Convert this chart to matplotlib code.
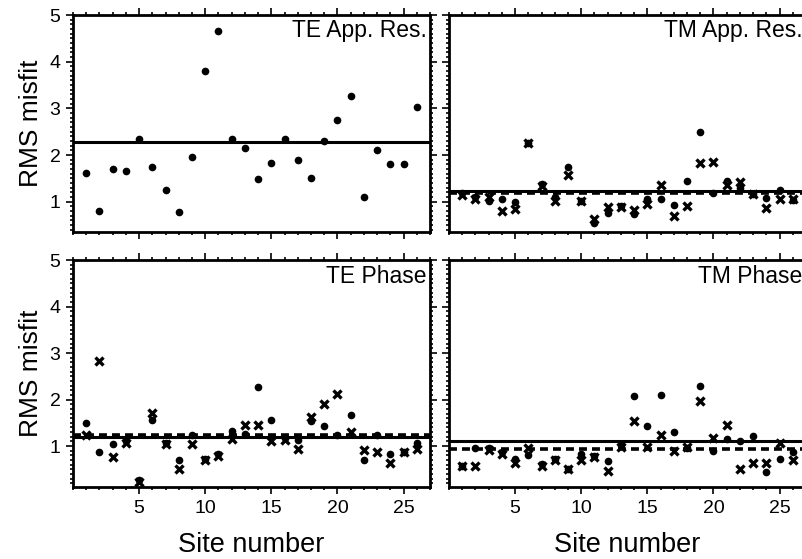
import matplotlib.pyplot as plt
import numpy as np
from matplotlib.ticker import MultipleLocator, FixedLocator

plt.rcParams['font.family'] = ['Liberation Sans', 'DejaVu Sans']

sites = np.arange(1, 27)

# TE apparent resistivity (dots only)
te_res_dot = [1.61, 0.79, 1.71, 1.66, 2.34, 1.74, 1.24, 0.77, 1.96, 3.80, 4.66, 2.35, 2.14,
              1.49, 1.82, 2.35, 1.89, 1.50, 2.30, 2.75, 3.26, 1.09, 2.10, 1.81, 1.81, 3.03]
te_res_solid = 2.28

# TM apparent resistivity
tm_res_dot = [1.18, 1.11, 1.01, 1.06, 0.99, 2.26, 1.37, 1.11, 1.75, 1.02, 0.54, 0.75, 0.91,
              0.74, 1.05, 1.05, 0.93, 1.44, 2.50, 1.19, 1.44, 1.29, 1.16, 1.07, 1.24, 1.04]
tm_res_x = [1.14, 1.05, 1.11, 0.81, 0.84, 2.26, 1.34, 1.02, 1.57, 1.02, 0.63, 0.88, 0.88,
            0.82, 0.96, 1.36, 0.69, 0.91, 1.82, 1.86, 1.36, 1.43, 1.16, 0.86, 1.05, 1.06]
tm_res_solid = 1.22
tm_res_dash = 1.18

# TE phase
te_ph_dot = [1.50, 0.87, 1.05, 1.10, 0.26, 1.57, 1.06, 0.71, 1.23, 0.73, 0.82, 1.32, 1.27,
             2.28, 1.57, 1.18, 1.12, 1.53, 1.43, 1.23, 1.66, 0.69, 1.23, 0.82, 0.87, 1.06]
te_ph_x = [1.23, 2.83, 0.76, 1.06, 0.22, 1.72, 1.04, 0.50, 1.05, 0.69, 0.78, 1.16, 1.46,
           1.45, 1.10, 1.14, 0.94, 1.62, 1.91, 2.11, 1.30, 0.91, 0.87, 0.64, 0.87, 0.94]
te_ph_solid = 1.19
te_ph_dash = 1.23

# TM phase
tm_ph_dot = [0.57, 0.96, 0.95, 0.87, 0.73, 0.81, 0.62, 0.73, 0.50, 0.83, 0.78, 0.67, 1.03,
             2.08, 1.43, 2.09, 1.30, 0.96, 2.29, 0.89, 1.16, 1.11, 1.22, 0.44, 0.73, 0.87]
tm_ph_x = [0.57, 0.58, 0.92, 0.83, 0.63, 0.96, 0.58, 0.71, 0.51, 0.71, 0.76, 0.46, 0.98,
           1.53, 0.98, 1.24, 0.89, 0.98, 1.96, 1.18, 1.45, 0.50, 0.64, 0.64, 1.06, 0.69]
tm_ph_solid = 1.11
tm_ph_dash = 0.94

xtick_vals = [5, 10, 15, 20, 25]

fig = plt.figure(figsize=(8.03, 5.59), dpi=100)

W = 357 / 803
panels = [
    # rect, title, dots, crosses, solid, dashed, ylim
    ([73 / 803, 0.585, W, 0.388], 'TE App. Res.', te_res_dot, None, te_res_solid, None, (0.35, 5)),
    ([449 / 803, 0.585, W, 0.388], 'TM App. Res.', tm_res_dot, tm_res_x, tm_res_solid, tm_res_dash, (0.35, 5)),
    ([73 / 803, 0.1288, W, 0.406], 'TE Phase', te_ph_dot, te_ph_x, te_ph_solid, te_ph_dash, (0.12, 5)),
    ([449 / 803, 0.1288, W, 0.406], 'TM Phase', tm_ph_dot, tm_ph_x, tm_ph_solid, tm_ph_dash, (0.12, 5)),
]

for i, (rect, title, dots, crosses, solid, dash, ylim) in enumerate(panels):
    ax = fig.add_axes(rect)
    ax.set_xlim(0, 27)
    ax.set_ylim(*ylim)

    ax.axhline(solid, color='black', lw=2.2, zorder=2)
    if dash is not None:
        ax.axhline(dash, color='black', lw=2.6, ls=(0, (2.2, 1.4)), zorder=2)

    ax.plot(sites, dots, 'o', color='black', ms=4.5, zorder=3)
    if crosses is not None:
        ax.plot(sites, crosses, 'x', color='black', ms=6, mew=2.4, zorder=3)

    ax.text(0.99, 0.98, title, transform=ax.transAxes, ha='right', va='top', fontsize=16.5)

    ax.xaxis.set_major_locator(FixedLocator(xtick_vals))
    ax.xaxis.set_minor_locator(MultipleLocator(1))
    ax.yaxis.set_major_locator(MultipleLocator(1))
    ax.yaxis.set_minor_locator(MultipleLocator(0.1))
    ax.tick_params(which='both', direction='out', top=True, right=True, width=1.2)
    ax.tick_params(which='major', length=5, labelsize=14, pad=4)
    ax.tick_params(which='minor', length=2.5)
    for s in ax.spines.values():
        s.set_linewidth(2)

    if i < 2:
        ax.set_xticklabels([])
    else:
        ax.set_xlabel('Site number', fontsize=19.5, labelpad=11)
    if i % 2 == 1:
        ax.set_yticklabels([])
    else:
        ax.set_ylabel('RMS misfit', fontsize=19, labelpad=5)

fig.savefig('out.png', dpi=100)
